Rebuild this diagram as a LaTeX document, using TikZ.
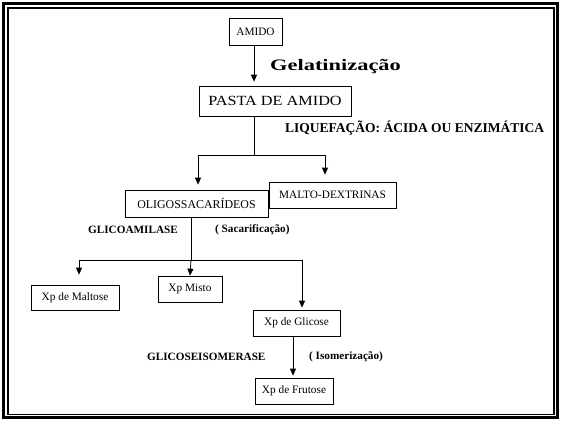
\documentclass[tikz,border=0pt]{standalone}
\usepackage{fontspec}
\setmainfont{Liberation Serif}
\usepackage{graphicx}
\usetikzlibrary{arrows.meta,
                positioning}
\tikzset{
        base/.style={draw, line width=0.7pt, inner sep=0pt, align=center,
                     font=\fontsize{11.3}{13}\selectfont},
        proc/.style={base, rectangle},
        lbl/.style={inner sep=0pt, anchor=west,
                    font=\fontsize{11.2}{13}\selectfont\bfseries},
        myarrow/.style={-{Triangle[length=7pt, width=6pt]}, line width=0.8pt},
        link/.style={line width=0.8pt},
 }
\begin{document}
\begin{tikzpicture}[x=1pt, y=-1pt]
    \useasboundingbox (0,0) rectangle (561,422);
    % frame
    \draw[line width=3pt] (3.5,3.5) rectangle (557.5,417.5);
    \draw[line width=1.5pt] (8,8) rectangle (554,414.5);

    \node[proc, minimum width=53pt, minimum height=27pt] (amido) at (255.5,31.5) {AMIDO};
    \node[proc, minimum width=152pt, minimum height=30pt] (pasta) at (275,101)
        {\fontsize{14}{16}\selectfont\scalebox{1.16}[1]{PASTA DE AMIDO}};
    \node[proc, minimum width=143pt, minimum height=27pt] (oligo) at (196.5,203.5)
        {\fontsize{11.9}{14}\selectfont OLIGOSSACARÍDEOS};
    \node[proc, minimum width=127pt, minimum height=26pt] (malto) at (332.5,195) {MALTO-DEXTRINAS};
    \node[proc, minimum width=88pt, minimum height=25pt] (maltose) at (75,297.5) {Xp de Maltose};
    \node[proc, minimum width=64pt, minimum height=26pt] (misto) at (190,289) {Xp Misto};
    \node[proc, minimum width=87pt, minimum height=26pt] (glicose) at (296.5,323) {Xp de Glicose};
    \node[proc, minimum width=78pt, minimum height=26pt] (frutose) at (294,391) {Xp de Frutose};

    \node[lbl, font=\fontsize{16}{18}\selectfont\bfseries] (gel) at (270,67)
        {\scalebox{1.4}[1]{Gelatinização}};
    \node[lbl, font=\fontsize{13.5}{15}\selectfont\bfseries] (liq) at (285,128)
        {LIQUEFAÇÃO: ÁCIDA OU ENZIMÁTICA};
    \node[lbl] (glam) at (88,230) {GLICOAMILASE};
    \node[lbl] (sacar) at (215,230) {( Sacarificação)};
    \node[lbl] (glis) at (147,357) {GLICOSEISOMERASE};
    \node[lbl] (isom) at (309,357) {( Isomerização)};

    \coordinate (liqsplit) at (254,155);
    \coordinate (sacsplit) at (191,260);

    \draw[myarrow, shorten >=4pt] ([xshift=-1.5pt]amido.south) -- ([xshift=-1.5pt]amido.south |- pasta.north);
    \draw[link] (pasta.south -| liqsplit) -- (liqsplit);
    \draw[myarrow, shorten >=5pt] (liqsplit) -| ([xshift=1.5pt]oligo.north);
    \draw[myarrow, shorten >=7pt] (liqsplit) -| ([xshift=-7.5pt]malto.north);

    \draw[link] (oligo.south -| sacsplit) -- (sacsplit);
    \draw[myarrow, shorten >=10pt] (sacsplit) -| ([xshift=4pt]maltose.north);
    \draw[myarrow] (sacsplit) -- (misto.north);
    \draw[myarrow, shorten >=2pt] (sacsplit) -| ([xshift=5.5pt]glicose.north);
    \draw[myarrow, shorten >=2pt] ([xshift=-1pt]frutose.north |- glicose.south) -- ([xshift=-1pt]frutose.north);
\end{tikzpicture}
\end{document}
